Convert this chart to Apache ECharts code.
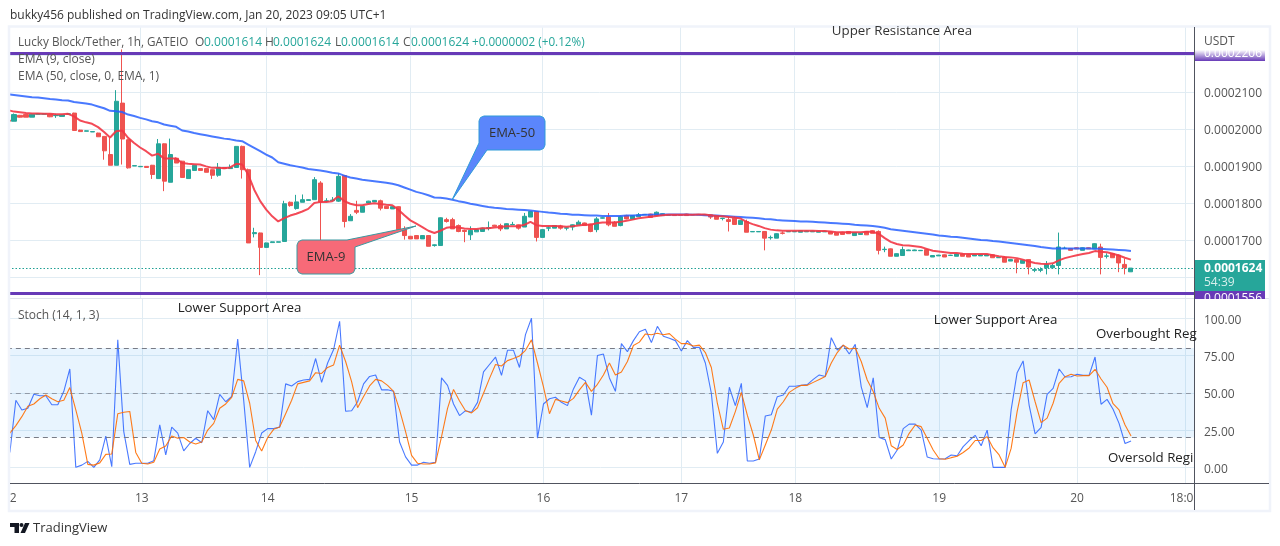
<!DOCTYPE html>
<html><head><meta charset="utf-8">
<style>html,body{margin:0;padding:0;background:#fff}#c{width:1280px;height:546px}</style>
<script src="https://cdn.jsdelivr.net/npm/echarts@6/dist/echarts.min.js"></script>
</head><body><div id="c"></div>
<script>
// Prices are in units of 0.0000001 USDT
const barCount = 198;
const tickBars = [0,22,43,67,89,112,131,155,178,196];
const tickLabels = ['12','13','14','15','16','17','18','19','20','18:00'];
const priceTicksHidden = [1600,2200];
const priceLevels = [2206,1556];
const lastPrice = 1624;
const stochLevels = [80,50,20];

const opens = [2024,
2021,2037,2039,2032,2040,2040,2040,2036,2034,2040,
2043,1997,1994,1992,1989,1980,1931,1902,2070,1971,
1900,1898,1899,1902,1866,1960,1856,1921,1913,1866,
1888,1893,1893,1890,1875,1896,1893,1896,1953,1890,
1717,1719,1680,1693,1694,1696,1802,1785,1802,1807,
1809,1854,1804,1806,1805,1874,1752,1780,1775,1800,
1803,1806,1791,1784,1790,1728,1710,1712,1703,1712,
1685,1685,1755,1755,1739,1726,1714,1722,1723,1732,
1740,1739,1730,1741,1741,1735,1762,1777,1707,1732,
1732,1738,1732,1735,1741,1746,1743,1728,1759,1762,
1748,1739,1766,1757,1763,1768,1770,1766,1766,1767,
1768,1768,1770,1768,1768,1768,1768,1766,1758,1755,
1759,1742,1750,1722,1722,1723,1706,1705,1719,1722,
1722,1721,1722,1722,1721,1722,1722,1719,1721,1723,
1712,1715,1723,1725,1723,1674,1676,1656,1658,1671,
1671,1671,1674,1654,1657,1660,1658,1656,1662,1660,
1657,1657,1657,1660,1652,1654,1643,1647,1637,1647,
1618,1618,1625,1625,1631,1677,1677,1679,1672,1679,
1676,1681,1656,1663,1659,1634,1614];
const closes = [2021,
2039,2032,2032,2040,2041,2041,2033,2037,2038,2041,
1996,1993,1995,1993,1979,1941,1902,2075,1973,1895,
1901,1899,1896,1877,1960,1859,1931,1908,1869,1890,
1902,1888,1883,1875,1896,1893,1896,1953,1890,1692,
1720,1680,1692,1695,1695,1798,1793,1803,1809,1809,
1863,1803,1806,1808,1872,1750,1764,1775,1791,1805,
1807,1786,1785,1790,1728,1712,1703,1703,1712,1683,
1687,1760,1750,1730,1723,1723,1726,1728,1732,1733,
1737,1730,1744,1742,1732,1764,1777,1707,1728,1733,
1739,1732,1733,1741,1748,1739,1723,1757,1760,1741,
1737,1763,1757,1766,1768,1769,1761,1775,1771,1768,
1766,1767,1766,1769,1769,1769,1762,1756,1759,1750,
1742,1753,1721,1723,1723,1705,1707,1717,1718,1723,
1723,1725,1724,1724,1724,1724,1716,1713,1715,1717,
1720,1718,1714,1718,1672,1675,1656,1663,1674,1673,
1673,1672,1659,1658,1659,1654,1659,1662,1656,1654,
1660,1660,1660,1652,1653,1640,1647,1640,1645,1627,
1620,1620,1634,1631,1681,1678,1672,1676,1679,1676,
1690,1653,1657,1652,1638,1625,1624];
const lows = [2021,
2021,2031,2032,2032,2040,2040,2032,2030,2034,2040,
1996,1993,1994,1992,1979,1917,1902,1902,1904,1893,
1900,1898,1896,1865,1866,1832,1856,1908,1869,1866,
1888,1888,1883,1865,1871,1893,1893,1896,1866,1692,
1707,1605,1680,1693,1694,1696,1790,1782,1802,1807,
1809,1692,1804,1806,1803,1734,1752,1770,1775,1800,
1803,1780,1785,1784,1728,1701,1703,1703,1703,1683,
1682,1684,1747,1730,1721,1694,1700,1722,1723,1726,
1737,1724,1730,1741,1728,1735,1762,1696,1707,1724,
1732,1728,1726,1726,1741,1739,1721,1721,1758,1737,
1737,1737,1756,1757,1763,1768,1761,1766,1766,1767,
1766,1767,1766,1768,1768,1768,1757,1756,1753,1723,
1742,1742,1721,1722,1722,1672,1701,1705,1715,1722,
1722,1721,1722,1722,1721,1722,1716,1713,1715,1717,
1712,1714,1714,1718,1661,1667,1656,1656,1658,1671,
1671,1671,1659,1654,1657,1654,1658,1656,1656,1654,
1657,1657,1657,1652,1652,1640,1643,1610,1637,1607,
1613,1613,1607,1624,1607,1677,1672,1676,1672,1676,
1676,1607,1650,1652,1613,1607,1614];
const highs = [2025,
2042,2038,2040,2041,2042,2042,2041,2041,2039,2042,
2044,1998,1996,1994,1990,1981,1976,2105,2215,1972,
1902,1900,1900,1903,1973,1961,1974,1923,1914,1891,
1903,1894,1894,1891,1908,1897,1904,1954,1955,1893,
1733,1720,1693,1696,1696,1806,1804,1822,1823,1810,
1870,1859,1813,1816,1880,1876,1770,1806,1792,1806,
1808,1809,1792,1791,1791,1737,1711,1713,1713,1713,
1688,1761,1760,1760,1742,1728,1737,1729,1733,1750,
1741,1744,1745,1749,1742,1773,1778,1778,1729,1737,
1740,1741,1734,1742,1753,1747,1744,1762,1761,1773,
1751,1766,1768,1767,1773,1770,1771,1777,1772,1769,
1769,1769,1771,1770,1770,1770,1769,1767,1760,1764,
1764,1754,1755,1724,1724,1724,1712,1718,1723,1724,
1724,1726,1725,1725,1725,1725,1723,1720,1722,1724,
1721,1719,1724,1726,1726,1682,1677,1664,1682,1674,
1674,1673,1675,1659,1660,1661,1660,1663,1663,1661,
1661,1661,1661,1661,1654,1655,1648,1648,1646,1648,
1625,1626,1643,1636,1720,1682,1678,1680,1680,1680,
1691,1690,1664,1665,1661,1650,1624];
const ema9 = [2051,
2047,2045,2043,2042,2042,2041,2041,2040,2040,2041,
2034,2023,2018,2014,2005,1992,1977,1994,1996,1976,
1962,1950,1940,1928,1933,1920,1920,1920,1908,1906,
1905,1904,1899,1895,1895,1894,1896,1906,1904,1877,
1836,1805,1782,1764,1750,1759,1766,1771,1777,1784,
1800,1803,1803,1805,1818,1805,1798,1794,1794,1797,
1799,1797,1795,1794,1782,1767,1753,1744,1735,1725,
1719,1725,1733,1735,1734,1731,1730,1730,1732,1732,
1734,1735,1737,1737,1737,1741,1749,1740,1738,1738,
1738,1737,1736,1737,1739,1741,1741,1745,1747,1747,
1747,1749,1752,1755,1759,1761,1763,1765,1767,1768,
1768,1768,1768,1768,1769,1769,1767,1765,1764,1762,
1761,1758,1749,1743,1738,1732,1728,1726,1725,1725,
1725,1725,1725,1725,1724,1724,1723,1721,1721,1721,
1721,1721,1722,1722,1717,1705,1695,1689,1686,1685,
1683,1681,1676,1671,1669,1667,1665,1665,1663,1662,
1662,1662,1662,1659,1656,1654,1653,1651,1647,1642,
1638,1636,1635,1637,1645,1651,1655,1659,1662,1665,
1670,1668,1667,1663,1658,1652,1647];
const ema50 = [2094,
2092,2090,2088,2086,2085,2083,2081,2080,2078,2077,
2073,2071,2069,2066,2061,2056,2049,2048,2046,2039,
2035,2030,2026,2021,2018,2012,2009,2006,1996,1993,
1989,1986,1983,1980,1977,1974,1972,1969,1967,1958,
1949,1940,1931,1923,1910,1906,1902,1899,1896,1892,
1890,1888,1885,1882,1880,1874,1869,1866,1863,1861,
1859,1857,1855,1852,1848,1842,1836,1830,1826,1821,
1815,1814,1812,1809,1805,1802,1798,1795,1792,1789,
1787,1786,1784,1783,1782,1781,1780,1778,1776,1774,
1773,1771,1770,1768,1768,1767,1766,1766,1765,1765,
1765,1765,1766,1766,1767,1768,1768,1769,1769,1769,
1769,1769,1769,1768,1768,1767,1766,1766,1765,1764,
1763,1762,1761,1760,1759,1757,1756,1754,1753,1752,
1751,1750,1750,1749,1748,1747,1746,1745,1744,1743,
1741,1740,1739,1738,1736,1733,1729,1727,1725,1723,
1721,1719,1717,1715,1712,1711,1709,1708,1706,1704,
1702,1700,1699,1697,1696,1694,1692,1690,1688,1686,
1684,1681,1679,1677,1677,1677,1677,1677,1677,1677,
1676,1676,1675,1674,1673,1672,1670];
const stochK = [10,
45,38.5,39.6,49,48,48,42,42,51,66,
0,1.5,4,0,5,21,0.5,85.5,24,2,
2.7,2.7,2.7,4.5,28.5,8.3,27,23,11,16,
19.5,16.5,38,32,49,44,47.5,86,45,0,
10.5,23,26,26,27,56,54.6,57.5,58.6,59,
73,57,70,79,98,37.6,38,44,56,61,
62,52,52,51,17,7,1.5,1.5,3.4,2.7,
3.4,60,55,42.5,34.7,38,37,43.6,64,69,
74,61.7,78.5,78.5,67,89,100,19.5,42.5,46,
47,43.6,41.4,52.6,60.4,58,35,75,76,60,
51,83,77.6,85,91,92.6,83.7,94.6,88,86.6,
85,78,85,80.5,80.5,70,49.7,9.4,17,53.7,
41.4,56.4,4.3,4.3,5.6,34.5,35.3,47.4,48.5,54.4,
54.4,55,55.5,59,62,61,87,78.7,82,76,
82.5,54,40,60,20,18.6,5.6,11.6,26,29,
29,25,7,5.8,5.6,5.8,8.3,7.8,13.9,18,
21.5,14.5,25,0,0,0,38.5,63.5,71.4,41.8,
22.4,26.8,49,53,66,60.6,60.8,62.4,61.7,61.7,
74,42.3,45.6,39,29.5,16,17.7];
const stochD = [23,
28,34,41,42.5,46,48.5,46,44,45,53.5,
38.5,23,2,1.5,3,8.7,9,36,37,37.5,
10,2.7,2.2,3.4,12.3,14.3,21,19.5,20,17,
15.7,17,25,29.5,39.6,42.5,47,59,58,43,
18,11,20,25.5,27,36,45,56,57,58,
63.5,63,67,68.7,82,71,57.5,40,47.5,54.6,
59,58,55,51,38.5,24,8,2.7,2.2,2.2,
3,20.6,39.6,52.3,44.5,38,36.5,40,49.7,59.7,
69,68,71.6,73,74.7,78.5,85.5,70,54,36,
45.6,44.5,43.4,46.3,52,57,51,55.7,62,70,
62,64,71,81.7,84,89.5,89,90,89,89.7,
86,83,83,81.4,82,77,67,43,25.5,26.4,
37.4,50.3,35,21.7,5,15,25,39,44,50.3,
53,55,55,57,59,61,70,77,82,79.4,
80,71,58.6,50.8,39.6,33,14.5,12,15,22.8,
28.4,27.3,19.5,11.6,5.8,5.4,6.5,7.4,10,13,
18,18,20.6,13,8.3,0,12.7,37.4,56.8,58.6,
44,30,33,43,56.4,60.8,62.4,61.3,61.5,61.5,
65.8,59.3,53.7,42.7,38.5,28.4,21];

const FONT = '"Open Sans", sans-serif';
const GRID = '#e1ecf3', TEAL = '#26a69a', RED = '#ef5350', PURPLE = '#673ab7', AXIS = '#50535e', GREY = '#555';
const categories = Array.from({length: barCount}, (_, i) => String(i));
const isTick = i => tickBars.indexOf(i) > 0;
const candles = opens.map((o, i) => [o, closes[i], lows[i], highs[i]]);
const price = v => (v / 1e7).toFixed(7);

function txt(x, y, text, o) {
  o = o || {};
  return {type: 'text', z: 20, x, y: y + 1, style: {text, fontFamily: FONT, fontSize: o.size || 12, fill: o.fill || GREY,
    fontWeight: o.weight || 'normal', textAlign: o.align || 'left', textVerticalAlign: 'middle'}};
}
function rect(x, y, w, h, fill, z) {
  return {type: 'rect', z: z || 15, shape: {x, y, width: w, height: h}, style: {fill}};
}
function seg(x1, y1, x2, y2, stroke, w, z) {
  return {type: 'line', z: z || 16, shape: {x1, y1, x2, y2}, style: {stroke, lineWidth: w || 1}};
}
function poly(points, fill, stroke, z) {
  return {type: 'polygon', z: z || 18, shape: {points}, style: {fill, stroke: stroke || 'none', lineWidth: 1}};
}
const graphics = [
  rect(0, 27, 9.5, 484, '#fff', 15),
  rect(1195, 485, 73, 24, '#fff', 15),
  {type: 'rect', z: 16, shape: {x: 9, y: 26.5, width: 1261, height: 484.5}, style: {fill: 'none', stroke: '#f0f3fa', lineWidth: 2.5}},
  seg(10, 298.5, 1269, 298.5, '#e0e3eb', 1, 1),
  seg(10, 483.5, 1269, 483.5, AXIS, 1),
  seg(1194.5, 27, 1194.5, 510, AXIS, 1),
  txt(10, 15, 'bukky456 published on TradingView.com, Jan 20, 2023 09:05 UTC+1', {fill: '#333'}),
  txt(18, 42, 'Lucky Block/Tether, 1h, GATEIO', {size: 11.7}),
  txt(195, 42, 'O'), txt(204, 42, '0.0001614', {fill: TEAL}),
  txt(265, 42, 'H'), txt(273, 42, '0.0001624', {fill: TEAL}),
  txt(335, 42, 'L'), txt(341, 42, '0.0001614', {fill: TEAL}),
  txt(403, 42, 'C'), txt(411, 42, '0.0001624', {fill: TEAL}),
  txt(472, 42, '+0.0000002 (+0.12%)', {fill: TEAL, size: 11.7}),
  txt(18, 59, 'EMA (9, close)'),
  txt(18, 76, 'EMA (50, close, 0, EMA, 1)'),
  txt(18, 315, 'Stoch (14, 1, 3)'),
  txt(1204, 41, 'USDT'),
  txt(902, 30, 'Upper Resistance Area', {size: 13.3, fill: '#333', align: 'center'}),
  txt(239.5, 307, 'Lower Support Area', {size: 13.3, fill: '#222', align: 'center'}),
  txt(995.5, 319, 'Lower Support Area', {size: 13.3, fill: '#222', align: 'center'}),
  txt(1096, 333, 'Overbought Reg', {size: 13.3, fill: '#222'}),
  txt(1108, 457, 'Oversold Regi', {size: 13.3, fill: '#222'}),
  // callouts
  poly([[484,116],[540,116],[543.5,117.5],[545,121],[545,145],[543.5,148.5],[540,150],[487,150],[452,200],[479,143],[479,121],[480.5,117.5]], '#5b86fb', '#2f9bd8'),
  txt(512, 132, 'EMA-50', {size: 13, fill: '#333', align: 'center'}),
  poly([[302,240],[347,240],[416,226],[355,247],[355,269],[353.5,272.5],[350,274],[302,274],[298.5,272.5],[297,269],[297,245],[298.5,241.5]], '#f76a78', '#3a98a0'),
  txt(326, 256, 'EMA-9', {size: 13, fill: '#333', align: 'center'}),
  // price labels
  {type: 'rect', z: 15, shape: {x: 1195, y: 50, width: 70, height: 11},
    style: {fill: {type: 'linear', x: 0, y: 0, x2: 0, y2: 1, colorStops: [{offset: 0, color: '#ffffff'}, {offset: 1, color: PURPLE}]}}},
  txt(1204, 53, price(priceLevels[0]), {fill: '#fff'}),
  rect(1195, 260, 70, 32, TEAL),
  txt(1204, 268, price(lastPrice), {fill: '#fff', weight: 'bold'}),
  txt(1204, 282, '54:39', {fill: '#d6efec'}),
  rect(1195, 291, 70, 8, PURPLE),
  txt(1204, 298, price(priceLevels[1]), {fill: '#fff'}),
  rect(1195, 299, 72, 9, '#fff', 25),
  // footer logo
  poly([[10,523],[19,523],[19,533],[14.5,533],[14.5,527],[10,527]], '#131722', 'none', 20),
  poly([[29.5,523],[25,533],[20.5,533],[25,523]], '#131722', 'none', 20),
  {type: 'circle', z: 20, shape: {cx: 21.5, cy: 525, r: 2}, style: {fill: '#131722'}},
  txt(33, 527, 'TradingView', {size: 13, fill: '#333'})
];

const xBase = {type: 'category', data: categories, boundaryGap: true, axisTick: {show: false},
  splitLine: {show: true, alignWithLabel: true, interval: i => isTick(i), lineStyle: {color: GRID, width: 1}}};
const lineBase = {type: 'line', showSymbol: false, symbol: 'none', smooth: false, silent: true};
const yRich = {n: {padding: [4, 0, 0, 0], color: GREY, fontFamily: FONT, fontSize: 12}};

const option = {
  animation: false,
  backgroundColor: '#fff',
  grid: [
    {left: 5, top: 27, width: 1189, height: 271},
    {left: 5, top: 298, width: 1189, height: 185}
  ],
  xAxis: [
    Object.assign({}, xBase, {gridIndex: 0, axisLine: {show: false}, axisLabel: {show: false}}),
    Object.assign({}, xBase, {gridIndex: 1, axisLine: {show: false},
      axisLabel: {show: true, interval: i => tickBars.indexOf(i) >= 0, formatter: v => tickLabels[tickBars.indexOf(+v)] || '',
        color: GREY, fontFamily: FONT, fontSize: 12, margin: 10}})
  ],
  yAxis: [
    {gridIndex: 0, type: 'value', position: 'right', min: 1543.2, max: 2275.7, minInterval: 100, maxInterval: 100,
      axisLine: {show: false}, axisTick: {show: false},
      splitLine: {show: true, showMinLine: false, showMaxLine: false, lineStyle: {color: GRID}},
      axisLabel: {showMinLabel: false, showMaxLabel: false, margin: 10, rich: yRich,
        formatter: v => (priceTicksHidden.indexOf(Math.round(v)) >= 0 || Math.round(v) % 100) ? '' : '{n|' + price(v) + '}'}},
    {gridIndex: 1, type: 'value', position: 'right', min: -10.5, max: 113.6, minInterval: 25, maxInterval: 25,
      axisLine: {show: false}, axisTick: {show: false},
      splitLine: {show: true, showMinLine: false, showMaxLine: false, lineStyle: {color: GRID}},
      axisLabel: {showMinLabel: false, showMaxLabel: false, margin: 10, rich: yRich,
        formatter: v => (Math.abs(v % 25) > 0.01) ? '' : '{n|' + v.toFixed(2) + '}'}}
  ],
  series: [
    {type: 'candlestick', name: 'Price', xAxisIndex: 0, yAxisIndex: 0, data: candles, barWidth: 4.6, silent: true,
      itemStyle: {color: TEAL, color0: RED, borderColor: TEAL, borderColor0: RED, borderWidth: 1},
      markLine: {silent: true, symbol: 'none', label: {show: false}, z: 6, data: [
        {yAxis: priceLevels[0], lineStyle: {color: PURPLE, width: 3, type: 'solid'}},
        {yAxis: priceLevels[1], lineStyle: {color: PURPLE, width: 3, type: 'solid'}},
        {yAxis: lastPrice, lineStyle: {color: '#1fa094', width: 1.2, type: [1.5, 2]}}
      ]}},
    Object.assign({}, lineBase, {name: 'EMA 50', xAxisIndex: 0, yAxisIndex: 0, data: ema50, z: 4, lineStyle: {color: '#2962ff', width: 2, opacity: 0.85}}),
    Object.assign({}, lineBase, {name: 'EMA 9', xAxisIndex: 0, yAxisIndex: 0, data: ema9, z: 5, lineStyle: {color: '#f23645', width: 2, opacity: 0.9}}),
    Object.assign({}, lineBase, {name: '%K', xAxisIndex: 1, yAxisIndex: 1, data: stochK, z: 4, lineStyle: {color: '#2962ff', width: 1.1, opacity: 0.85},
      markArea: {silent: true, itemStyle: {color: 'rgba(33,150,243,0.1)'}, data: [[{yAxis: stochLevels[0]}, {yAxis: stochLevels[2]}]]},
      markLine: {silent: true, symbol: 'none', label: {show: false}, lineStyle: {color: '#787b86', width: 1, type: [5, 4]},
        data: stochLevels.map(v => ({yAxis: v, lineStyle: {opacity: v === 50 ? 0.7 : 1}}))}}),
    Object.assign({}, lineBase, {name: '%D', xAxisIndex: 1, yAxisIndex: 1, data: stochD, z: 5, lineStyle: {color: '#ff6d00', width: 1.1, opacity: 0.9}})
  ],
  graphic: graphics
};
echarts.init(document.getElementById('c'), null, {renderer: 'canvas'}).setOption(option);
</script></body></html>
